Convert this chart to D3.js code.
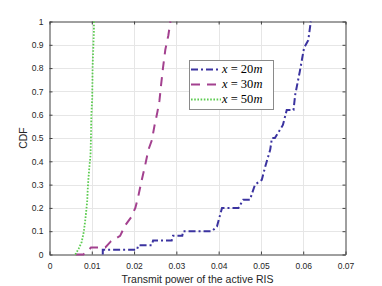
<!DOCTYPE html>
<html>
<head>
<meta charset="utf-8">
<script src="https://cdn.jsdelivr.net/npm/d3@7"></script>
<style>
  html, body { margin: 0; padding: 0; background: #fff; }
  svg { display: block; }
</style>
</head>
<body>
<svg id="chart" width="382" height="286"></svg>
<script>
// ---- data ----
const xTicks = [0, 0.01, 0.02, 0.03, 0.04, 0.05, 0.06, 0.07];
const xTickLabels = ["0", "0.01", "0.02", "0.03", "0.04", "0.05", "0.06", "0.07"];
const yTicks = [0, 0.1, 0.2, 0.3, 0.4, 0.5, 0.6, 0.7, 0.8, 0.9, 1];
const yTickLabels = ["0", "0.1", "0.2", "0.3", "0.4", "0.5", "0.6", "0.7", "0.8", "0.9", "1"];
const seriesNames = ["20m", "30m", "50m"];

// x = 20m (power, CDF)
const power20 = [0.0126,0.0126,0.0207,0.0210,0.0242,0.0245,0.0289,0.0292,0.0314,0.0316,0.0384,0.0396,0.0408,0.0447,0.0458,0.0474,0.0486,0.0502,0.0510,0.0522,0.0526,0.0533,0.0552,0.0561,0.0577,0.0581,0.0592,0.0602,0.0612,0.0618];
const cdf20   = [0,     0.02,  0.02,  0.04,  0.04,  0.06,  0.06,  0.08,  0.08,  0.10,  0.10,  0.12,  0.20,  0.20,  0.235, 0.235, 0.30,  0.32,  0.376, 0.45,  0.50,  0.50,  0.556, 0.62,  0.62,  0.685, 0.786, 0.887, 0.92,  1.0];

// x = 30m
const power30 = [0.0062,0.0080,0.0093,0.0098,0.0132,0.0145,0.0167,0.0179,0.0193,0.0203,0.0210,0.0217,0.0227,0.0234,0.0242,0.0248,0.0255,0.0260,0.0264,0.0269,0.0274,0.0281,0.0286];
const cdf30   = [0,     0,     0.02,  0.03,  0.03,  0.056, 0.08,  0.125, 0.16,  0.20,  0.25,  0.31,  0.39,  0.45,  0.49,  0.55,  0.61,  0.66,  0.73,  0.81,  0.88,  0.94,  1.0];

// x = 50m
const power50 = [0.0061,0.0069,0.0076,0.0081,0.0085,0.0089,0.0091,0.0094,0.0097,0.0098,0.0099,0.0101,0.0102,0.0105,0.0105];
const cdf50   = [0,     0.025, 0.053, 0.096, 0.154, 0.225, 0.30,  0.37,  0.427, 0.50,  0.60,  0.67,  0.81,  0.96,  1.0];

// ---- drawing ----
const svg = d3.select("#chart");
const L = 49.5, R = 345.5, T = 21.5, B = 254.5;
const x = d3.scaleLinear().domain([0, 0.07]).range([L, R]);
const y = d3.scaleLinear().domain([0, 1]).range([B, T]);
const axisColor = "#404040";
const textColor = "#262626";
const font = "'Liberation Sans', Arial, sans-serif";

// grid
const grid = svg.append("g");
grid.selectAll("line.gx").data(xTicks.slice(1, -1)).enter().append("line")
  .attr("x1", d => Math.round(x(d)) + 0.5).attr("x2", d => Math.round(x(d)) + 0.5)
  .attr("y1", T).attr("y2", B).attr("stroke", "#e6e6e6").attr("stroke-width", 1);
grid.selectAll("line.gy").data(yTicks.slice(1, -1)).enter().append("line")
  .attr("y1", d => Math.round(y(d)) + 0.5).attr("y2", d => Math.round(y(d)) + 0.5)
  .attr("x1", L).attr("x2", R).attr("stroke", "#e6e6e6").attr("stroke-width", 1);

// axes
const xAxis = d3.axisBottom(x).tickValues(xTicks).tickFormat((d, i) => xTickLabels[i]).tickSizeInner(-3).tickSizeOuter(0).tickPadding(8);
const gx = svg.append("g").attr("transform", `translate(0,${B})`).call(xAxis);
const xTop = d3.axisTop(x).tickValues(xTicks).tickFormat("").tickSizeInner(-3).tickSizeOuter(0);
const gxt = svg.append("g").attr("transform", `translate(0,${T})`).call(xTop);
const yAxis = d3.axisLeft(y).tickValues(yTicks).tickFormat((d, i) => yTickLabels[i]).tickSizeInner(-3).tickSizeOuter(0).tickPadding(6);
const gy = svg.append("g").attr("transform", `translate(${L},0)`).call(yAxis);
const yRight = d3.axisRight(y).tickValues(yTicks).tickFormat("").tickSizeInner(-3).tickSizeOuter(0);
const gyr = svg.append("g").attr("transform", `translate(${R},0)`).call(yRight);

[gx, gxt, gy, gyr].forEach(g => {
  g.select(".domain").attr("stroke", axisColor);
  g.selectAll(".tick line").attr("stroke", axisColor);
  g.selectAll(".tick text").attr("fill", textColor).attr("font-family", font).attr("font-size", 8.5);
});

// labels
svg.append("text").attr("x", (L + R) / 2).attr("y", 282.5).attr("text-anchor", "middle")
  .attr("font-family", font).attr("font-size", 10.5).attr("fill", textColor)
  .text("Transmit power of the active RIS");
svg.append("text").attr("transform", `translate(26.5,${(T + B) / 2}) rotate(-90)`).attr("text-anchor", "middle")
  .attr("font-family", font).attr("font-size", 10.5).attr("fill", textColor)
  .text("CDF");

// series
const series = [
  { name: seriesNames[0], xs: power20, ys: cdf20, color: "#3b33a0", dash: "7,3,2,3", width: 2 },
  { name: seriesNames[1], xs: power30, ys: cdf30, color: "#a3418f", dash: "9,7", width: 2 },
  { name: seriesNames[2], xs: power50, ys: cdf50, color: "#5ccb50", dash: "1.6,1.6", width: 1.8 }
];
const line = d3.line().x(d => x(d[0])).y(d => y(d[1]));
series.forEach(s => {
  svg.append("path").datum(s.xs.map((v, i) => [v, s.ys[i]]))
    .attr("d", line).attr("fill", "none").attr("stroke", s.color)
    .attr("stroke-width", s.width).attr("stroke-dasharray", s.dash);
});

// legend
const lg = svg.append("g");
lg.append("rect").attr("x", 189.5).attr("y", 60.5).attr("width", 84).attr("height", 49)
  .attr("fill", "#fff").attr("stroke", "#8a8a8a").attr("stroke-width", 1);
series.forEach((s, i) => {
  const yy = 69.5 + i * 15;
  lg.append("line").attr("x1", 191).attr("x2", 221).attr("y1", yy).attr("y2", yy)
    .attr("stroke", s.color).attr("stroke-width", s.width).attr("stroke-dasharray", s.dash);
  const t = lg.append("text").attr("x", 222).attr("y", yy + 3.8)
    .attr("font-family", "'Liberation Serif', 'DejaVu Serif', serif").attr("font-size", 12.5).attr("fill", "#000");
  t.append("tspan").attr("font-style", "italic").text("x");
  t.append("tspan").text(" = " + s.name.replace("m", ""));
  t.append("tspan").attr("font-style", "italic").text("m");
});
</script>
</body>
</html>
